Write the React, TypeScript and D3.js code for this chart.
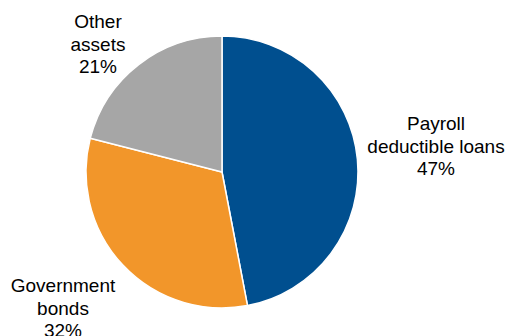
import React from "react";
import * as d3 from "d3";

const categories = ["Payroll deductible loans", "Government bonds", "Other assets"];
const values = [47, 32, 21];
const labelLines = [
  ["Payroll", "deductible loans", "47%"],
  ["Government", "bonds", "32%"],
  ["Other", "assets", "21%"],
];
const colors = ["#004F8F", "#F2962A", "#A6A6A6"];

const W = 509;
const H = 336;
const CX = 222;
const CY = 172;
const R = 136;
// label anchors (x center, baseline of first line)
const labelAnchors: [number, number][] = [
  [436, 130],
  [63, 292],
  [98, 28],
];
const LINE_H = 22.5;

export default function App() {
  const pie = d3.pie<number>().sort(null).value((d) => d);
  const arcs = pie(values);
  const arc = d3.arc<d3.PieArcDatum<number>>().innerRadius(0).outerRadius(R);

  return (
    <svg
      width={W}
      height={H}
      style={{ position: "absolute", left: 0, top: 0, background: "#fff" }}
      fontFamily="'Liberation Sans', Arial, sans-serif"
    >
      <g transform={`translate(${CX},${CY})`}>
        {arcs.map((a, i) => (
          <path
            key={categories[i]}
            d={arc(a) || ""}
            fill={colors[i]}
            stroke="#fff"
            strokeWidth={1.5}
            strokeLinejoin="round"
          />
        ))}
      </g>
      {labelLines.map((lines, i) => (
        <text
          key={categories[i]}
          x={labelAnchors[i][0]}
          y={labelAnchors[i][1]}
          textAnchor="middle"
          fontSize={19}
          fill="#000"
        >
          {lines.map((ln, j) => (
            <tspan key={j} x={labelAnchors[i][0]} dy={j === 0 ? 0 : LINE_H}>
              {ln}
            </tspan>
          ))}
        </text>
      ))}
    </svg>
  );
}
